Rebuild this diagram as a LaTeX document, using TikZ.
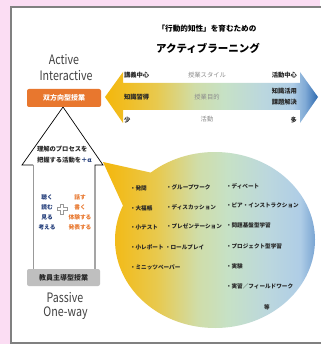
\documentclass[tikz,border=0pt]{standalone}
\usepackage{fontspec}
\setmainfont{Noto Sans CJK JP}
\usepackage{graphicx}
\usetikzlibrary{calc}
\definecolor{pinkbg}{HTML}{FBDDF3}
\definecolor{panelborder}{HTML}{808080}
\definecolor{boxorange}{HTML}{E8772E}
\definecolor{boxgrey}{HTML}{BFBFBF}
\definecolor{txtdark}{HTML}{262626}
\definecolor{txtgrey}{HTML}{8C8C8C}
\definecolor{engtxt}{HTML}{404040}
\definecolor{navy}{HTML}{1F3A78}
\definecolor{orangetxt}{HTML}{E8772E}
\definecolor{sa}{HTML}{F4B70C}
\definecolor{sb}{HTML}{F0BE25}
\definecolor{sc}{HTML}{E8C94E}
\definecolor{sd}{HTML}{D0DDA8}
\definecolor{se}{HTML}{C6E1C6}
\definecolor{sf}{HTML}{BBD7DE}
\definecolor{sg}{HTML}{AFCDE6}
\definecolor{sh}{HTML}{7FA9D5}
\definecolor{si}{HTML}{2C69AF}
\pgfdeclarehorizontalshading{alshade}{100bp}{color(0bp)=(sa); color(25bp)=(sa); color(30bp)=(sb); color(37bp)=(sc); color(46bp)=(sd); color(53bp)=(se); color(62bp)=(sf); color(69bp)=(sg); color(72bp)=(sh); color(75bp)=(si); color(100bp)=(si)}
\newcommand\nx[1]{\scalebox{0.82}[1]{#1}}
\begin{document}
\begin{tikzpicture}[x=1pt,y=-1pt,
  tx/.style={inner sep=0pt, outer sep=0pt},
  arrowtxt/.style={tx, font=\bfseries\fontsize{6.3}{7}\selectfont, text=txtdark},
  midtxt/.style={tx, font=\fontsize{6.3}{7}\selectfont, text=txtgrey},
  eng/.style={tx, font=\fontsize{13}{14}\selectfont, text=engtxt},
  bullet/.style={tx, anchor=west, font=\bfseries\fontsize{5.6}{6}\selectfont, text=txtdark},
  navytxt/.style={tx, font=\bfseries\fontsize{5.7}{6}\selectfont, text=navy},
  orgtxt/.style={tx, font=\bfseries\fontsize{5.7}{6}\selectfont, text=orangetxt},
  headtxt/.style={tx, anchor=west, font=\bfseries\fontsize{6.3}{7}\selectfont, text=txtdark},
  labelbox/.style={tx, rounded corners=2pt, font=\bfseries\fontsize{7}{8}\selectfont}
]
\useasboundingbox (0,0) rectangle (320,344);
\fill[pinkbg] (0,0) rectangle (320,344);
\draw[panelborder, line width=2pt, fill=white] (11,7) rectangle (330,343);

% title
\node[tx, font=\bfseries\fontsize{7.6}{8}\selectfont] (t1) at (207,29) {「行動的知性」を育むための};
\node[tx, font=\bfseries\fontsize{10.5}{11}\selectfont] (t2) at (208,48) {アクティブラーニング};

% double arrow
\shade[shading=alshade] (105,97) -- (123,72) -- (123,83) -- (300,83) -- (300,72) -- (318,97) -- (300,123) -- (300,110) -- (123,110) -- (123,123) -- cycle;
\node[arrowtxt, anchor=west] (l1) at (124,75) {講義中心};
\node[arrowtxt, anchor=west] (l2) at (124,97) {知識習得};
\node[arrowtxt, anchor=west] (l3) at (124,120) {少};
\node[midtxt] (m1) at (207,75) {授業スタイル};
\node[midtxt] (m2) at (207,97) {授業目的};
\node[midtxt] (m3) at (207,119) {活動};
\node[arrowtxt, anchor=east] (r1) at (297,75) {活動中心};
\node[arrowtxt, anchor=east] (r2) at (297,91) {知識活用};
\node[arrowtxt, anchor=east] (r2b) at (297,102) {課題解決};
\node[arrowtxt, anchor=east] (r3) at (297,120) {多};

% english labels
\node[eng] (e1) at (64,60) {\nx{Active}};
\node[eng] (e2) at (66,76) {\nx{Interactive}};
\node[eng] (e3) at (65,298) {\nx{Passive}};
\node[eng] (e4) at (65.5,313) {\nx{One-way}};

% up arrow
\fill[white] (63,107) -- (103,165) -- (95,165) -- (95,269) -- (33,269) -- (33,165) -- (22,165) -- cycle;
\draw[black, line width=0.7pt] (33,165) -- (22,165) -- (63,107) -- (103,165) -- (95,165) -- (95,269);
\draw[black!40, line width=0.7pt] (33,165) -- (33,269);

% orange box
\node[labelbox, fill=boxorange, text=white, minimum width=74pt, minimum height=18pt] (ob) at (64,98) {双方向型授業};
% grey box
\node[labelbox, fill=boxgrey, text=txtdark, minimum width=73pt, minimum height=17pt] (gb) at (63.5,277.5) {教員主導型授業};

\node[headtxt] (h1) at (37,149) {理解のプロセスを};
\node[headtxt] (h2) at (37,160) {把握する活動を\textcolor{navy}{＋α}};

\node[navytxt] (n1) at (47,197) {聴く};
\node[navytxt] (n2) at (47,207) {読む};
\node[navytxt] (n3) at (47,217) {見る};
\node[navytxt] (n4) at (47,227) {考える};
\node[orgtxt] (o1) at (80,197) {話す};
\node[orgtxt] (o2) at (80,207) {書く};
\node[orgtxt] (o3) at (80,217) {体験する};
\node[orgtxt] (o4) at (80,227) {発表する};
\draw[black!40, fill=white, line width=0.6pt] (60.5,204) -- (63.5,204) -- (63.5,207.5) -- (67,207.5) -- (67,210.5) -- (63.5,210.5) -- (63.5,214) -- (60.5,214) -- (60.5,210.5) -- (57,210.5) -- (57,207.5) -- (60.5,207.5) -- cycle;

% bubble
\shade[shading=alshade] (103,162) -- ($(215,240)+(230:100 and 88)$) arc[start angle=230, end angle=563, x radius=100, y radius=88] -- cycle;

\node[bullet] (b1) at (130,188) {・発問};
\node[bullet] (b2) at (130,208) {・大福帳};
\node[bullet] (b3) at (130,227) {・小テスト};
\node[bullet] (b4) at (130,247) {・小レポート};
\node[bullet] (b5) at (130,267) {・ミニッツペーパー};
\node[bullet] (c1) at (166,187) {・グループワーク};
\node[bullet] (c2) at (166,207) {・ディスカッション};
\node[bullet] (c3) at (166,226) {・プレゼンテーション};
\node[bullet] (c4) at (165,247) {・ロールプレイ};
\node[bullet] (d1) at (226,186) {・ディベート};
\node[bullet] (d2) at (226,205) {・ピア・インストラクション};
\node[bullet] (d3) at (226,225) {・問題基盤型学習};
\node[bullet] (d4) at (226,246) {・プロジェクト型学習};
\node[bullet] (d5) at (226,266) {・実験};
\node[bullet] (d6) at (226,286) {・実習／フィールドワーク};
\node[tx, font=\bfseries\fontsize{5.6}{6}\selectfont, text=txtdark] (etc) at (267,307) {等};
\end{tikzpicture}
\end{document}
